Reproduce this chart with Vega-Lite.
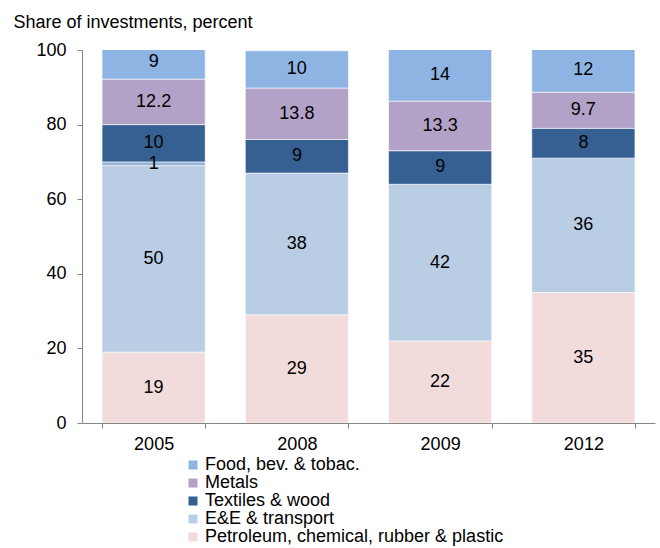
{
  "$schema": "https://vega.github.io/schema/vega-lite/v6.json",
  "width": 573,
  "height": 373,
  "autosize": "none",
  "padding": {"left": 82, "top": 50, "right": 5, "bottom": 125},
  "background": "white",
  "config": {
    "font": "Liberation Sans",
    "view": {"stroke": null},
    "axis": {"labelFont": "Liberation Sans", "labelFontSize": 18, "labelColor": "#000000", "domainColor": "#868686", "tickColor": "#868686", "grid": false}
  },
  "data": {
    "values": [
      {"year": "2005", "sector": "Petroleum, chemical, rubber & plastic", "v": 19},
      {"year": "2005", "sector": "E&E & transport", "v": 50},
      {"year": "2005", "sector": "Other", "v": 1},
      {"year": "2005", "sector": "Textiles & wood", "v": 10},
      {"year": "2005", "sector": "Metals", "v": 12.2},
      {"year": "2005", "sector": "Food, bev. & tobac.", "v": 9},
      {"year": "2008", "sector": "Petroleum, chemical, rubber & plastic", "v": 29},
      {"year": "2008", "sector": "E&E & transport", "v": 38},
      {"year": "2008", "sector": "Textiles & wood", "v": 9},
      {"year": "2008", "sector": "Metals", "v": 13.8},
      {"year": "2008", "sector": "Food, bev. & tobac.", "v": 10},
      {"year": "2009", "sector": "Petroleum, chemical, rubber & plastic", "v": 22},
      {"year": "2009", "sector": "E&E & transport", "v": 42},
      {"year": "2009", "sector": "Textiles & wood", "v": 9},
      {"year": "2009", "sector": "Metals", "v": 13.3},
      {"year": "2009", "sector": "Food, bev. & tobac.", "v": 14},
      {"year": "2012", "sector": "Petroleum, chemical, rubber & plastic", "v": 35},
      {"year": "2012", "sector": "E&E & transport", "v": 36},
      {"year": "2012", "sector": "Textiles & wood", "v": 8},
      {"year": "2012", "sector": "Metals", "v": 9.7},
      {"year": "2012", "sector": "Food, bev. & tobac.", "v": 12}
    ]
  },
  "transform": [
    {"calculate": "indexof(['Petroleum, chemical, rubber & plastic','E&E & transport','Other','Textiles & wood','Metals','Food, bev. & tobac.'], datum.sector)", "as": "ord"},
    {"stack": "v", "groupby": ["year"], "sort": [{"field": "ord", "order": "ascending"}], "as": ["v0", "v1"]},
    {"calculate": "(datum.v0 + datum.v1) / 2", "as": "mid"}
  ],
  "encoding": {
    "x": {
      "field": "year", "type": "nominal", "title": null,
      "scale": {"paddingInner": 0.28, "paddingOuter": 0.14},
      "axis": {"labelAngle": 0, "tickBand": "extent", "tickSize": 5, "labelPadding": 7}
    }
  },
  "layer": [
    {
      "mark": {"type": "bar", "clip": true, "stroke": "white", "strokeWidth": 0.6},
      "encoding": {
        "y": {
          "field": "v0", "type": "quantitative",
          "scale": {"domain": [0, 100], "nice": false},
          "axis": {
            "values": [0, 20, 40, 60, 80, 100], "tickSize": 5, "labelPadding": 11,
            "title": "Share of investments, percent", "titleAngle": 0, "titleAlign": "left",
            "titleBaseline": "alphabetic", "titleX": -69, "titleY": -23,
            "titleFont": "Liberation Sans", "titleFontSize": 18, "titleFontWeight": "normal", "titleColor": "#000000"
          }
        },
        "y2": {"field": "v1"},
        "color": {
          "field": "sector", "type": "nominal",
          "scale": {
            "domain": ["Food, bev. & tobac.", "Metals", "Textiles & wood", "E&E & transport", "Petroleum, chemical, rubber & plastic", "Other"],
            "range": ["#8EB4E3", "#B3A2C7", "#376092", "#B9CDE5", "#F2DCDB", "#95B3D7"]
          },
          "legend": {
            "values": ["Food, bev. & tobac.", "Metals", "Textiles & wood", "E&E & transport", "Petroleum, chemical, rubber & plastic"],
            "title": null, "orient": "none", "legendX": 102, "legendY": 406,
            "symbolType": "square", "symbolSize": 81, "symbolStrokeWidth": 0,
            "labelFont": "Liberation Sans", "labelFontSize": 18, "labelColor": "#000000", "labelLimit": 0,
            "labelOffset": 3, "rowPadding": 0, "symbolOpacity": 1
          }
        }
      }
    },
    {
      "mark": {"type": "text", "fontSize": 18, "color": "#000000", "font": "Liberation Sans", "baseline": "middle"},
      "encoding": {
        "y": {"field": "mid", "type": "quantitative"},
        "text": {"field": "v", "type": "quantitative"}
      }
    }
  ]
}
